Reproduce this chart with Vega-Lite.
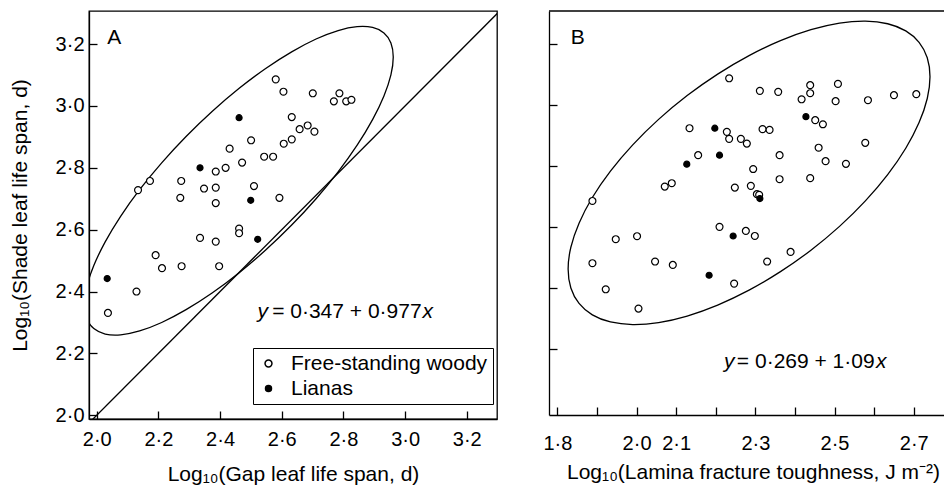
{
  "$schema": "https://vega.github.io/schema/vega-lite/v6.json",
  "padding": {"left": 8, "top": 10, "right": 0, "bottom": 0},
  "background": "white",
  "spacing": 44,
  "config": {
    "font": "Liberation Sans",
    "view": {"stroke": "black", "strokeWidth": 1.3},
    "axis": {
      "grid": false,
      "domainColor": "black",
      "domainWidth": 1.3,
      "tickColor": "black",
      "tickWidth": 1.3,
      "tickSize": -8,
      "labelFont": "Liberation Sans",
      "labelFontSize": 20,
      "labelColor": "black",
      "titleFont": "Liberation Sans",
      "titleFontSize": 21,
      "titleFontWeight": "normal",
      "titleColor": "black"
    }
  },
  "datasets": {
    "pointsA": [
      {"x": 2.5805, "y": 3.086, "type": "Free-standing woody"},
      {"x": 2.6055, "y": 3.046, "type": "Free-standing woody"},
      {"x": 2.7007, "y": 3.041, "type": "Free-standing woody"},
      {"x": 2.787, "y": 3.041, "type": "Free-standing woody"},
      {"x": 2.769, "y": 3.015, "type": "Free-standing woody"},
      {"x": 2.809, "y": 3.015, "type": "Free-standing woody"},
      {"x": 2.826, "y": 3.02, "type": "Free-standing woody"},
      {"x": 2.6325, "y": 2.964, "type": "Free-standing woody"},
      {"x": 2.684, "y": 2.937, "type": "Free-standing woody"},
      {"x": 2.658, "y": 2.925, "type": "Free-standing woody"},
      {"x": 2.706, "y": 2.917, "type": "Free-standing woody"},
      {"x": 2.6325, "y": 2.892, "type": "Free-standing woody"},
      {"x": 2.6065, "y": 2.878, "type": "Free-standing woody"},
      {"x": 2.5006, "y": 2.889, "type": "Free-standing woody"},
      {"x": 2.431, "y": 2.862, "type": "Free-standing woody"},
      {"x": 2.543, "y": 2.836, "type": "Free-standing woody"},
      {"x": 2.572, "y": 2.836, "type": "Free-standing woody"},
      {"x": 2.4714, "y": 2.817, "type": "Free-standing woody"},
      {"x": 2.418, "y": 2.8, "type": "Free-standing woody"},
      {"x": 2.386, "y": 2.788, "type": "Free-standing woody"},
      {"x": 2.274, "y": 2.7575, "type": "Free-standing woody"},
      {"x": 2.1727, "y": 2.7575, "type": "Free-standing woody"},
      {"x": 2.134, "y": 2.728, "type": "Free-standing woody"},
      {"x": 2.348, "y": 2.733, "type": "Free-standing woody"},
      {"x": 2.386, "y": 2.736, "type": "Free-standing woody"},
      {"x": 2.51, "y": 2.741, "type": "Free-standing woody"},
      {"x": 2.271, "y": 2.703, "type": "Free-standing woody"},
      {"x": 2.386, "y": 2.686, "type": "Free-standing woody"},
      {"x": 2.5925, "y": 2.703, "type": "Free-standing woody"},
      {"x": 2.4617, "y": 2.6035, "type": "Free-standing woody"},
      {"x": 2.4617, "y": 2.5886, "type": "Free-standing woody"},
      {"x": 2.335, "y": 2.5735, "type": "Free-standing woody"},
      {"x": 2.386, "y": 2.5615, "type": "Free-standing woody"},
      {"x": 2.0364, "y": 2.331, "type": "Free-standing woody"},
      {"x": 2.129, "y": 2.4, "type": "Free-standing woody"},
      {"x": 2.191, "y": 2.5176, "type": "Free-standing woody"},
      {"x": 2.2117, "y": 2.4756, "type": "Free-standing woody"},
      {"x": 2.2753, "y": 2.482, "type": "Free-standing woody"},
      {"x": 2.397, "y": 2.482, "type": "Free-standing woody"},
      {"x": 2.4617, "y": 2.962, "type": "Lianas"},
      {"x": 2.335, "y": 2.8, "type": "Lianas"},
      {"x": 2.4994, "y": 2.695, "type": "Lianas"},
      {"x": 2.522, "y": 2.569, "type": "Lianas"},
      {"x": 2.034, "y": 2.442, "type": "Lianas"}
    ],
    "pointsB": [
      {"x": 1.8885, "y": 2.685, "type": "Free-standing woody"},
      {"x": 2.2338, "y": 3.088, "type": "Free-standing woody"},
      {"x": 2.3114, "y": 3.0467, "type": "Free-standing woody"},
      {"x": 2.3577, "y": 3.0434, "type": "Free-standing woody"},
      {"x": 2.4168, "y": 3.019, "type": "Free-standing woody"},
      {"x": 2.4385, "y": 3.0654, "type": "Free-standing woody"},
      {"x": 2.4385, "y": 3.039, "type": "Free-standing woody"},
      {"x": 2.5086, "y": 3.0696, "type": "Free-standing woody"},
      {"x": 2.5027, "y": 3.0128, "type": "Free-standing woody"},
      {"x": 2.5844, "y": 3.016, "type": "Free-standing woody"},
      {"x": 2.6501, "y": 3.0325, "type": "Free-standing woody"},
      {"x": 2.7065, "y": 3.0358, "type": "Free-standing woody"},
      {"x": 2.1337, "y": 2.924, "type": "Free-standing woody"},
      {"x": 2.228, "y": 2.912, "type": "Free-standing woody"},
      {"x": 2.2338, "y": 2.889, "type": "Free-standing woody"},
      {"x": 2.2634, "y": 2.889, "type": "Free-standing woody"},
      {"x": 2.2785, "y": 2.8735, "type": "Free-standing woody"},
      {"x": 2.3182, "y": 2.921, "type": "Free-standing woody"},
      {"x": 2.3359, "y": 2.9185, "type": "Free-standing woody"},
      {"x": 2.4512, "y": 2.9504, "type": "Free-standing woody"},
      {"x": 2.4706, "y": 2.937, "type": "Free-standing woody"},
      {"x": 2.4598, "y": 2.86, "type": "Free-standing woody"},
      {"x": 2.5776, "y": 2.876, "type": "Free-standing woody"},
      {"x": 2.3612, "y": 2.8354, "type": "Free-standing woody"},
      {"x": 2.4774, "y": 2.8157, "type": "Free-standing woody"},
      {"x": 2.5288, "y": 2.807, "type": "Free-standing woody"},
      {"x": 2.1555, "y": 2.8354, "type": "Free-standing woody"},
      {"x": 2.2945, "y": 2.79, "type": "Free-standing woody"},
      {"x": 2.3612, "y": 2.7565, "type": "Free-standing woody"},
      {"x": 2.4385, "y": 2.76, "type": "Free-standing woody"},
      {"x": 2.0712, "y": 2.7323, "type": "Free-standing woody"},
      {"x": 2.0889, "y": 2.7434, "type": "Free-standing woody"},
      {"x": 2.2482, "y": 2.729, "type": "Free-standing woody"},
      {"x": 2.2886, "y": 2.7346, "type": "Free-standing woody"},
      {"x": 2.3038, "y": 2.7073, "type": "Free-standing woody"},
      {"x": 2.3096, "y": 2.705, "type": "Free-standing woody"},
      {"x": 2.2095, "y": 2.6, "type": "Free-standing woody"},
      {"x": 2.276, "y": 2.5867, "type": "Free-standing woody"},
      {"x": 2.2987, "y": 2.57, "type": "Free-standing woody"},
      {"x": 1.9474, "y": 2.5594, "type": "Free-standing woody"},
      {"x": 2.0012, "y": 2.5693, "type": "Free-standing woody"},
      {"x": 1.8885, "y": 2.4806, "type": "Free-standing woody"},
      {"x": 2.0467, "y": 2.486, "type": "Free-standing woody"},
      {"x": 2.0915, "y": 2.475, "type": "Free-standing woody"},
      {"x": 2.2464, "y": 2.4136, "type": "Free-standing woody"},
      {"x": 2.3298, "y": 2.486, "type": "Free-standing woody"},
      {"x": 2.389, "y": 2.5177, "type": "Free-standing woody"},
      {"x": 1.9221, "y": 2.395, "type": "Free-standing woody"},
      {"x": 2.0048, "y": 2.3315, "type": "Free-standing woody"},
      {"x": 2.4277, "y": 2.962, "type": "Lianas"},
      {"x": 2.1976, "y": 2.924, "type": "Lianas"},
      {"x": 2.2095, "y": 2.8354, "type": "Lianas"},
      {"x": 2.1268, "y": 2.806, "type": "Lianas"},
      {"x": 2.3114, "y": 2.693, "type": "Lianas"},
      {"x": 2.2439, "y": 2.57, "type": "Lianas"},
      {"x": 2.1832, "y": 2.441, "type": "Lianas"}
    ],
    "ellipseA": [
      {"i": 0, "x": 2.9616, "y": 3.1583}, {"i": 1, "x": 2.954, "y": 3.2039},
      {"i": 2, "x": 2.9314, "y": 3.2361}, {"i": 3, "x": 2.8945, "y": 3.2537},
      {"i": 4, "x": 2.8445, "y": 3.2563}, {"i": 5, "x": 2.7828, "y": 3.2437},
      {"i": 6, "x": 2.7113, "y": 3.2164}, {"i": 7, "x": 2.6322, "y": 3.175},
      {"i": 8, "x": 2.5479, "y": 3.1212}, {"i": 9, "x": 2.461, "y": 3.0562},
      {"i": 10, "x": 2.3741, "y": 2.9822}, {"i": 11, "x": 2.2898, "y": 2.9014},
      {"i": 12, "x": 2.2107, "y": 2.8162}, {"i": 13, "x": 2.1392, "y": 2.7293},
      {"i": 14, "x": 2.0775, "y": 2.6433}, {"i": 15, "x": 2.0275, "y": 2.5607},
      {"i": 16, "x": 1.9906, "y": 2.4841}, {"i": 17, "x": 1.968, "y": 2.4159},
      {"i": 18, "x": 1.9604, "y": 2.3581}, {"i": 19, "x": 1.968, "y": 2.3125},
      {"i": 20, "x": 1.9906, "y": 2.2803}, {"i": 21, "x": 2.0275, "y": 2.2627},
      {"i": 22, "x": 2.0775, "y": 2.2601}, {"i": 23, "x": 2.1392, "y": 2.2727},
      {"i": 24, "x": 2.2107, "y": 2.3}, {"i": 25, "x": 2.2898, "y": 2.3414},
      {"i": 26, "x": 2.3741, "y": 2.3952}, {"i": 27, "x": 2.461, "y": 2.4602},
      {"i": 28, "x": 2.5479, "y": 2.5342}, {"i": 29, "x": 2.6322, "y": 2.615},
      {"i": 30, "x": 2.7113, "y": 2.7002}, {"i": 31, "x": 2.7828, "y": 2.7871},
      {"i": 32, "x": 2.8445, "y": 2.8731}, {"i": 33, "x": 2.8945, "y": 2.9557},
      {"i": 34, "x": 2.9314, "y": 3.0323}, {"i": 35, "x": 2.954, "y": 3.1005}
    ],
    "ellipseB": [
      {"i": 0, "x": 2.7411, "y": 3.0933}, {"i": 1, "x": 2.7342, "y": 3.1554},
      {"i": 2, "x": 2.7135, "y": 3.2061}, {"i": 3, "x": 2.6799, "y": 3.2437},
      {"i": 4, "x": 2.6342, "y": 3.2671}, {"i": 5, "x": 2.5779, "y": 3.2755},
      {"i": 6, "x": 2.5126, "y": 3.269}, {"i": 7, "x": 2.4404, "y": 3.2475},
      {"i": 8, "x": 2.3634, "y": 3.2116}, {"i": 9, "x": 2.2841, "y": 3.1626},
      {"i": 10, "x": 2.2048, "y": 3.1018}, {"i": 11, "x": 2.1278, "y": 3.0313},
      {"i": 12, "x": 2.0556, "y": 2.953}, {"i": 13, "x": 1.9903, "y": 2.8693},
      {"i": 14, "x": 1.934, "y": 2.7829}, {"i": 15, "x": 1.8883, "y": 2.6963},
      {"i": 16, "x": 1.8547, "y": 2.6121}, {"i": 17, "x": 1.834, "y": 2.533},
      {"i": 18, "x": 1.8271, "y": 2.4613}, {"i": 19, "x": 1.834, "y": 2.3992},
      {"i": 20, "x": 1.8547, "y": 2.3485}, {"i": 21, "x": 1.8883, "y": 2.3109},
      {"i": 22, "x": 1.934, "y": 2.2875}, {"i": 23, "x": 1.9903, "y": 2.2791},
      {"i": 24, "x": 2.0556, "y": 2.2856}, {"i": 25, "x": 2.1278, "y": 2.3071},
      {"i": 26, "x": 2.2048, "y": 2.343}, {"i": 27, "x": 2.2841, "y": 2.392},
      {"i": 28, "x": 2.3634, "y": 2.4528}, {"i": 29, "x": 2.4404, "y": 2.5233},
      {"i": 30, "x": 2.5126, "y": 2.6016}, {"i": 31, "x": 2.5779, "y": 2.6853},
      {"i": 32, "x": 2.6342, "y": 2.7717}, {"i": 33, "x": 2.6799, "y": 2.8583},
      {"i": 34, "x": 2.7135, "y": 2.9425}, {"i": 35, "x": 2.7342, "y": 3.0216}
    ],
    "diagA": [
      {"x": 1.975, "y": 1.975},
      {"x": 3.31, "y": 3.31}
    ],
    "frameB": [
      {"y": 3.309}
    ],
    "textA": [
      {"x": 2.0341, "y": 3.2, "t": "A", "italic": false, "align": "left"},
      {"x": 2.5211, "y": 2.3142, "t": "y", "italic": true, "align": "left"},
      {"x": 3.0535, "y": 2.3142, "t": " = 0·347 + 0·977", "italic": false, "align": "right"},
      {"x": 3.0568, "y": 2.3142, "t": "x", "italic": true, "align": "left"}
    ],
    "textB": [
      {"x": 1.8336, "y": 3.2, "t": "B", "italic": false, "align": "left"},
      {"x": 2.2211, "y": 2.1357, "t": "y", "italic": true, "align": "left"},
      {"x": 2.6013, "y": 2.1357, "t": " = 0·269 + 1·09", "italic": false, "align": "right"},
      {"x": 2.6046, "y": 2.1357, "t": "x", "italic": true, "align": "left"}
    ]
  },
  "resolve": {
    "scale": {"fill": "independent", "size": "independent"},
    "legend": {"fill": "independent", "size": "independent"}
  },
  "hconcat": [
    {
      "width": 408,
      "height": 408,
      "view": {"stroke": "black", "strokeWidth": 1.3},
      "encoding": {
        "x": {
          "field": "x", "type": "quantitative",
          "scale": {"domain": [1.975, 3.298], "nice": false, "zero": false},
          "axis": {
            "values": [2.0, 2.2, 2.4, 2.6, 2.8, 3.0, 3.2],
            "labelExpr": "replace(format(datum.value, '.1f'), '.', '·')",
            "labelPadding": 18,
            "titlePadding": 14,
            "title": "Log₁₀(Gap leaf life span, d)"
          }
        },
        "y": {
          "field": "y", "type": "quantitative",
          "scale": {"domain": [1.988, 3.307], "nice": false, "zero": false},
          "axis": {
            "values": [2.0, 2.2, 2.4, 2.6, 2.8, 3.0, 3.2],
            "labelExpr": "replace(format(datum.value, '.1f'), '.', '·')",
            "labelPadding": 13,
            "titlePadding": 25,
            "title": "Log₁₀(Shade leaf life span, d)"
          }
        }
      },
      "layer": [
        {
          "data": {"name": "ellipseA"},
          "mark": {"type": "line", "clip": true, "stroke": "black", "strokeWidth": 1.3, "interpolate": "cardinal-closed"},
          "encoding": {"order": {"field": "i", "type": "quantitative"}}
        },
        {
          "data": {"name": "diagA"},
          "mark": {"type": "line", "clip": true, "stroke": "black", "strokeWidth": 1.3}
        },
        {
          "data": {"name": "pointsA"},
          "mark": {"type": "point", "shape": "circle", "filled": true, "stroke": "black", "strokeWidth": 1.2, "opacity": 1},
          "encoding": {
            "fill": {
              "field": "type", "type": "nominal",
              "scale": {"domain": ["Free-standing woody", "Lianas"], "range": ["white", "black"]},
              "legend": {
                "orient": "none", "legendX": 164, "legendY": 337,
                "title": null, "strokeColor": "black",
                "padding": 5, "labelFontSize": 21, "labelColor": "black",
                "labelFont": "Liberation Sans", "labelLimit": 0,
                "labelOffset": 12, "rowPadding": 3,
                "encode": {"symbols": {"update": {"stroke": {"value": "black"}, "strokeWidth": {"value": 1.2}}}}
              }
            },
            "size": {
              "field": "type", "type": "nominal",
              "scale": {"domain": ["Free-standing woody", "Lianas"], "range": [48, 36]},
              "legend": {
                "orient": "none", "legendX": 164, "legendY": 337,
                "title": null, "strokeColor": "black",
                "padding": 5, "labelFontSize": 21, "labelColor": "black",
                "labelFont": "Liberation Sans", "labelLimit": 0,
                "labelOffset": 12, "rowPadding": 3,
                "encode": {"symbols": {"update": {"stroke": {"value": "black"}, "strokeWidth": {"value": 1.2}}}}
              }
            }
          }
        },
        {
          "data": {"name": "textA"},
          "transform": [{"filter": "!datum.italic && datum.align == 'left'"}],
          "mark": {"type": "text", "align": "left", "baseline": "alphabetic", "fontSize": 21, "color": "black"},
          "encoding": {"text": {"field": "t"}}
        },
        {
          "data": {"name": "textA"},
          "transform": [{"filter": "!datum.italic && datum.align == 'right'"}],
          "mark": {"type": "text", "align": "right", "baseline": "alphabetic", "fontSize": 21, "color": "black"},
          "encoding": {"text": {"field": "t"}}
        },
        {
          "data": {"name": "textA"},
          "transform": [{"filter": "datum.italic"}],
          "mark": {"type": "text", "align": "left", "baseline": "alphabetic", "fontSize": 21, "fontStyle": "italic", "color": "black"},
          "encoding": {"text": {"field": "t"}}
        }
      ]
    },
    {
      "width": 396,
      "height": 404,
      "view": {"stroke": null},
      "encoding": {
        "x": {
          "field": "x", "type": "quantitative",
          "scale": {"domain": [1.7788, 2.779], "nice": false, "zero": false},
          "axis": {
            "values": [1.8, 1.9, 2.0, 2.1, 2.2, 2.3, 2.4, 2.5, 2.6, 2.7],
            "labelExpr": "indexof(['1.8','2.0','2.1','2.3','2.5','2.7'], format(datum.value, '.1f')) >= 0 ? replace(format(datum.value, '.1f'), '.', '·') : ''",
            "labelPadding": 26,
            "titlePadding": 8,
            "titleX": 204,
            "title": "Log₁₀(Lamina fracture toughness, J m⁻²)"
          }
        },
        "y": {
          "field": "y", "type": "quantitative",
          "scale": {"domain": [1.982, 3.309], "nice": false, "zero": false},
          "axis": {
            "values": [2.2, 2.4, 2.6, 2.8, 3.0, 3.2],
            "labels": false,
            "title": null
          }
        }
      },
      "layer": [
        {
          "data": {"name": "frameB"},
          "mark": {"type": "rule", "stroke": "black", "strokeWidth": 1.3},
          "encoding": {"x": null}
        },
        {
          "data": {"name": "ellipseB"},
          "mark": {"type": "line", "clip": true, "stroke": "black", "strokeWidth": 1.3, "interpolate": "cardinal-closed"},
          "encoding": {"order": {"field": "i", "type": "quantitative"}}
        },
        {
          "data": {"name": "pointsB"},
          "mark": {"type": "point", "shape": "circle", "filled": true, "stroke": "black", "strokeWidth": 1.2, "opacity": 1},
          "encoding": {
            "fill": {
              "field": "type", "type": "nominal",
              "scale": {"domain": ["Free-standing woody", "Lianas"], "range": ["white", "black"]},
              "legend": null
            },
            "size": {
              "field": "type", "type": "nominal",
              "scale": {"domain": ["Free-standing woody", "Lianas"], "range": [48, 36]},
              "legend": null
            }
          }
        },
        {
          "data": {"name": "textB"},
          "transform": [{"filter": "!datum.italic && datum.align == 'left'"}],
          "mark": {"type": "text", "align": "left", "baseline": "alphabetic", "fontSize": 21, "color": "black"},
          "encoding": {"text": {"field": "t"}}
        },
        {
          "data": {"name": "textB"},
          "transform": [{"filter": "!datum.italic && datum.align == 'right'"}],
          "mark": {"type": "text", "align": "right", "baseline": "alphabetic", "fontSize": 21, "color": "black"},
          "encoding": {"text": {"field": "t"}}
        },
        {
          "data": {"name": "textB"},
          "transform": [{"filter": "datum.italic"}],
          "mark": {"type": "text", "align": "left", "baseline": "alphabetic", "fontSize": 21, "fontStyle": "italic", "color": "black"},
          "encoding": {"text": {"field": "t"}}
        }
      ]
    }
  ]
}
